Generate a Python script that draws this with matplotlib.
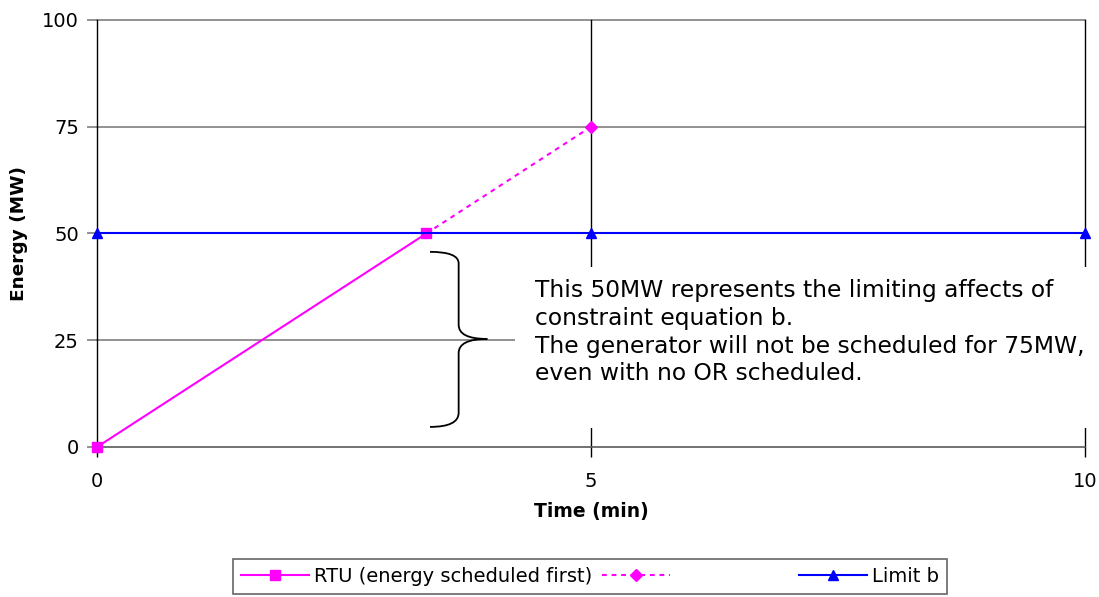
import matplotlib
matplotlib.use('Agg')
import matplotlib.pyplot as plt
from matplotlib.path import Path
from matplotlib.patches import PathPatch, Rectangle
from matplotlib.lines import Line2D

plt.rcParams['font.family'] = ['DejaVu Sans']

# data
rtu_x = [0, 10 / 3]
rtu_y = [0, 50]
rtu_ext_x = [10 / 3, 5]
rtu_ext_y = [50, 75]
limit_x = [0, 5, 10]
limit_y = [50, 50, 50]

x_ticks = [0, 5, 10]
y_ticks = [0, 25, 50, 75, 100]

note = ("This 50MW represents the limiting affects of\n"
        "constraint equation b.\n"
        "The generator will not be scheduled for 75MW,\n"
        "even with no OR scheduled.")

MAG = '#ff00ff'
BLUE = '#0000ff'

fig = plt.figure(figsize=(10.99, 5.97), dpi=100, facecolor='white')
ax = fig.add_axes([0.0883, 0.2513, 0.8990, 0.7152])

ax.set_xlim(0, 10)
ax.set_ylim(0, 100)
ax.set_xticks(x_ticks)
ax.set_yticks(y_ticks)
ax.tick_params(axis='x', direction='out', length=7, width=1, labelsize=14, pad=11, color='black')
ax.tick_params(axis='y', direction='out', length=7, width=1.2, labelsize=14, pad=6, color='#7f7f7f')

for s in ['top', 'right']:
    ax.spines[s].set_visible(False)
ax.spines['left'].set_color('black')
ax.spines['left'].set_linewidth(1)
ax.spines['bottom'].set_color('#5a5a5a')
ax.spines['bottom'].set_linewidth(1.2)
for s in ['left', 'bottom']:
    ax.spines[s].set_zorder(3)

ax.set_axisbelow(True)
for yv in y_ticks[1:]:
    ax.axhline(yv, color='#7f7f7f', lw=1.2, zorder=0.5, clip_on=False)
for xv in x_ticks[1:]:
    ax.axvline(xv, color='black', lw=1, zorder=0.5, clip_on=False)

ax.plot(rtu_x, rtu_y, color=MAG, lw=1.5, marker='s', ms=7.2, clip_on=False, zorder=4)
ax.plot(rtu_ext_x, rtu_ext_y, color=MAG, lw=1.5, ls=(0, (2.3, 2.3)), zorder=4)
ax.plot(rtu_ext_x[1:], rtu_ext_y[1:], color=MAG, ls='none', marker='D', ms=6.5, zorder=4)
ax.plot(limit_x, limit_y, color=BLUE, lw=1.5, marker='^', ms=7.5, clip_on=False, zorder=4)

ax.set_xlabel('Time (min)', fontsize=13.5, fontweight='bold', labelpad=8)
ax.set_ylabel('Energy (MW)', fontsize=13.3, fontweight='bold', labelpad=10)

# white box behind the note hides the gridlines
ax.add_patch(Rectangle((4.23, 4.45), 5.9, 37.8, facecolor='white', edgecolor='none',
                       zorder=1, clip_on=False))
ax.text(4.433, 39.3, note, fontsize=16.8, va='top', ha='left', linespacing=1.26, zorder=5)

# curly brace
bx0, bx1, bx2 = 3.37, 3.66, 3.95
verts = [(bx0, 45.7), (bx1, 45.7), (bx1, 43.0), (bx1, 28.6),
         (bx1, 25.3), (bx2, 25.3), (bx1, 25.3), (bx1, 22.0),
         (bx1, 8.0), (bx1, 4.7), (bx0, 4.7)]
codes = [Path.MOVETO, Path.CURVE3, Path.CURVE3, Path.LINETO,
         Path.CURVE3, Path.CURVE3, Path.CURVE3, Path.CURVE3,
         Path.LINETO, Path.CURVE3, Path.CURVE3]
ax.add_patch(PathPatch(Path(verts, codes), fill=False, edgecolor='black', lw=1.3, zorder=5))

h1 = Line2D([], [], color=MAG, lw=1.5, marker='s', ms=7.2)
h2 = Line2D([], [], color=MAG, lw=1.5, ls=(0, (2.3, 2.3)), marker='D', ms=6.5)
h3 = Line2D([], [], color='none')
h4 = Line2D([], [], color=BLUE, lw=1.5, marker='^', ms=7.5)
leg = fig.legend([h1, h2, h3, h4], ['RTU (energy scheduled first)', '', ' ' * 5, 'Limit b'],
                 loc='upper left', bbox_to_anchor=(0.212, 0.0637), ncol=4,
                 fontsize=14, frameon=True, fancybox=False, edgecolor='#404040',
                 handlelength=3.5, handletextpad=0.26, columnspacing=0.5,
                 borderpad=0.4, borderaxespad=0)
leg.get_frame().set_linewidth(1.2)

fig.savefig('out.png', dpi=100, facecolor='white')
